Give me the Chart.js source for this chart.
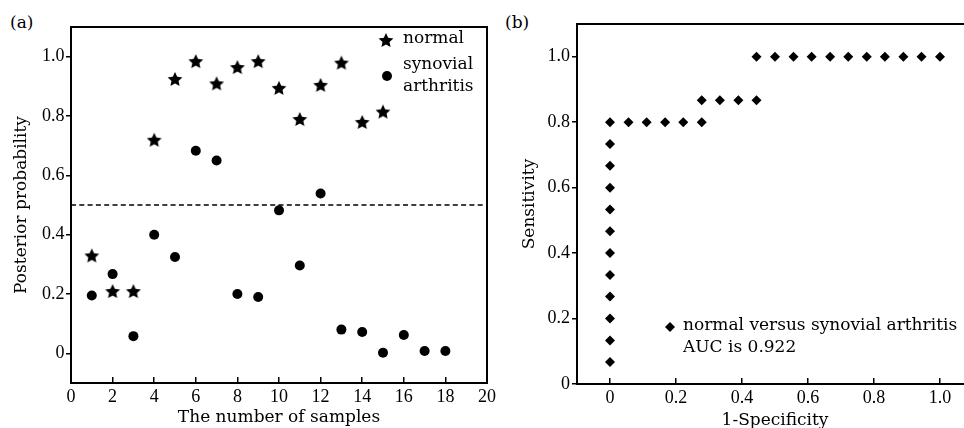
<!DOCTYPE html>
<html>
<head>
<meta charset="utf-8">
<script src="https://cdn.jsdelivr.net/npm/chart.js@4.4.0/dist/chart.umd.min.js"></script>
<style>
  html, body { margin: 0; padding: 0; background: #fff; overflow: hidden; }
  body { width: 964px; height: 428px; position: relative; }
  #chartA { position: absolute; left: 0; top: 0; }
  #chartB { position: absolute; left: 490px; top: 0; }
  .tag { position: absolute; top: 12px; font-family: 'DejaVu Serif'; font-size: 17px; line-height: 20px; color: #000; }
</style>
</head>
<body>
<div class="tag" style="left:10px">(a)</div>
<div class="tag" style="left:505px">(b)</div>
<canvas id="chartA" width="500" height="428"></canvas>
<canvas id="chartB" width="488" height="432"></canvas>
<script>
'use strict';

// (a) posterior probability per sample
let sampleIndex = [1, 2, 3, 4, 5, 6, 7, 8, 9, 10, 11, 12, 13, 14, 15, 16, 17, 18];
let normalProb = [0.33, 0.21, 0.21, 0.72, 0.925, 0.985, 0.91, 0.965, 0.985, 0.895, 0.79, 0.905, 0.98, 0.78, 0.815];
let synovialProb = [0.195, 0.267, 0.058, 0.4, 0.325, 0.683, 0.65, 0.2, 0.19, 0.482, 0.296, 0.539, 0.08, 0.072, 0.002, 0.062, 0.008, 0.008];
let thresholdX = [0, 20];
let thresholdY = [0.5, 0.5];
let sampleTicks = [0, 2, 4, 6, 8, 10, 12, 14, 16, 18, 20];
let probTicks = [0, 0.2, 0.4, 0.6, 0.8, 1.0];
let probLabels = ['0', '0.2', '0.4', '0.6', '0.8', '1.0'];

// (b) ROC points
let rocFpr = [0, 0, 0, 0, 0, 0, 0, 0, 0, 0, 0, 0,
  0.056, 0.111, 0.167, 0.222, 0.278,
  0.278, 0.333, 0.389, 0.444,
  0.444, 0.5, 0.556, 0.611, 0.667, 0.722, 0.778, 0.833, 0.889, 0.944, 1.0];
let rocTpr = [0.067, 0.133, 0.2, 0.267, 0.333, 0.4, 0.467, 0.533, 0.6, 0.667, 0.733, 0.8,
  0.8, 0.8, 0.8, 0.8, 0.8,
  0.867, 0.867, 0.867, 0.867,
  1, 1, 1, 1, 1, 1, 1, 1, 1, 1, 1];
let rateTicks = [0, 0.2, 0.4, 0.6, 0.8, 1.0];
let rateLabels = ['0', '0.2', '0.4', '0.6', '0.8', '1.0'];

Chart.defaults.font.family = "'DejaVu Serif'";
Chart.defaults.color = '#000';

// filled five point star used as marker
function makeStar(outer, inner) {
  let c = document.createElement('canvas');
  let size = Math.ceil(outer * 2) + 2;
  c.width = size;
  c.height = size;
  let g = c.getContext('2d');
  g.fillStyle = '#000';
  g.beginPath();
  for (let i = 0; i < 10; i++) {
    let r = i % 2 === 0 ? outer : inner;
    let a = -Math.PI / 2 + i * Math.PI / 5;
    let px = size / 2 + r * Math.cos(a);
    let py = size / 2 + 0.8 + r * Math.sin(a);
    if (i === 0) g.moveTo(px, py); else g.lineTo(px, py);
  }
  g.closePath();
  g.fill();
  return c;
}
let starImg = makeStar(7.8, 3.7);

function pairUp(xs, ys) {
  return ys.map((y, i) => ({x: xs[i], y: y}));
}

function fixedTicks(values) {
  return function(scale) {
    scale.ticks = values.map(v => ({value: v}));
  };
}

function labelFor(values, labels) {
  return function(value) {
    let i = values.findIndex(v => Math.abs(v - value) < 1e-9);
    return i >= 0 ? labels[i] : '';
  };
}

// fixed axis box, no extra room for the end labels
function fixHeight(h) {
  return function(s) {
    s.height = h;
    s.paddingLeft = 0;
    s.paddingRight = 0;
  };
}
function fixWidth(w) {
  return function(s) {
    s.width = w;
    s.paddingTop = 0;
    s.paddingBottom = 0;
  };
}

// box lines the axes don't draw
let framePlugin = {
  id: 'frame',
  afterDatasetsDraw(chart, args, opts) {
    let ctx = chart.ctx;
    let a = chart.chartArea;
    ctx.save();
    ctx.strokeStyle = '#000';
    ctx.lineWidth = 2;
    ctx.beginPath();
    ctx.moveTo(a.left - 1, a.top);
    ctx.lineTo(a.right, a.top);
    if (opts.right) ctx.lineTo(a.right, a.bottom + 1);
    ctx.stroke();
    ctx.restore();
  }
};

// hand made key, the built-in legend can't wrap a label
let keyPlugin = {
  id: 'key',
  afterDraw(chart, args, opts) {
    let ctx = chart.ctx;
    let a = chart.chartArea;
    ctx.save();
    ctx.font = "17px 'DejaVu Serif'";
    ctx.fillStyle = '#000';
    ctx.strokeStyle = '#000';
    ctx.textBaseline = 'middle';
    ctx.textAlign = 'left';
    opts.items.forEach(item => {
      let x0 = item.right !== undefined ? a.right - item.right : a.left + item.left;
      let y0 = item.top !== undefined ? a.top + item.top : a.bottom - item.bottom;
      let ds = chart.data.datasets[item.dataset];
      Chart.helpers.drawPoint(ctx, {pointStyle: ds.pointStyle, radius: ds.pointRadius, borderWidth: 0, rotation: 0}, x0, y0);
      item.lines.forEach((t, k) => ctx.fillText(t, x0 + item.gap, y0 + item.textDy + k * 21.5));
    });
    ctx.restore();
  }
};

let tickFont = {family: "'Liberation Serif'", size: 18};
let titleFont = {family: "'DejaVu Serif'", size: 17};

let chartA = new Chart(document.getElementById('chartA'), {
  type: 'scatter',
  data: {
    datasets: [
      {
        label: 'normal',
        data: pairUp(sampleIndex, normalProb),
        pointStyle: starImg,
        pointRadius: 7,
        backgroundColor: '#000',
        borderColor: '#000'
      },
      {
        label: 'synovial arthritis',
        data: pairUp(sampleIndex, synovialProb),
        pointStyle: 'circle',
        pointRadius: 5,
        borderWidth: 0,
        backgroundColor: '#000',
        borderColor: '#000'
      },
      {
        type: 'line',
        label: 'threshold',
        data: pairUp(thresholdX, thresholdY),
        borderColor: '#000',
        borderWidth: 1.3,
        borderDash: [5, 3.3],
        pointRadius: 0,
        fill: false
      }
    ]
  },
  options: {
    responsive: false,
    animation: false,
    events: [],
    layout: {padding: {top: 27, right: 13, left: 0, bottom: 0}},
    scales: {
      x: {
        type: 'linear',
        min: 0,
        max: 20,
        afterBuildTicks: fixedTicks(sampleTicks),
        afterFit: fixHeight(45),
        ticks: {font: tickFont, color: '#000', padding: 9, maxRotation: 0, autoSkip: false},
        grid: {drawOnChartArea: false, tickLength: -6, color: '#000', lineWidth: 1.5},
        border: {color: '#000', width: 2},
        title: {display: true, text: 'The number of samples', font: titleFont, color: '#000', padding: {top: 0, bottom: 0}}
      },
      y: {
        min: -0.1,
        max: 1.1,
        afterBuildTicks: fixedTicks(probTicks),
        afterFit: fixWidth(71),
        ticks: {font: tickFont, color: '#000', padding: 1.5, callback: labelFor(probTicks, probLabels)},
        grid: {drawOnChartArea: false, tickLength: 5, color: '#000', lineWidth: 1.5},
        border: {color: '#000', width: 2},
        title: {display: true, text: 'Posterior probability', font: titleFont, color: '#000', padding: {top: 11, bottom: 0}}
      }
    },
    plugins: {
      legend: {display: false},
      tooltip: {enabled: false},
      frame: {right: true},
      key: {
        items: [
          {dataset: 0, right: 101, top: 13, gap: 17, textDy: -1, lines: ['normal']},
          {dataset: 1, right: 100, top: 49, gap: 16, textDy: -11, lines: ['synovial', 'arthritis']}
        ]
      }
    }
  },
  plugins: [framePlugin, keyPlugin]
});

let chartB = new Chart(document.getElementById('chartB'), {
  type: 'scatter',
  data: {
    datasets: [
      {
        label: 'normal versus synovial arthritis',
        data: pairUp(rocFpr, rocTpr),
        pointStyle: 'rectRot',
        pointRadius: 5,
        borderWidth: 0,
        backgroundColor: '#000',
        borderColor: '#000'
      }
    ]
  },
  options: {
    responsive: false,
    animation: false,
    events: [],
    layout: {padding: {top: 24, right: 0, left: 0, bottom: 0}},
    scales: {
      x: {
        type: 'linear',
        min: -0.1,
        max: 1.1,
        afterBuildTicks: fixedTicks(rateTicks),
        afterFit: fixHeight(48),
        ticks: {font: tickFont, color: '#000', padding: 9, maxRotation: 0, autoSkip: false, callback: labelFor(rateTicks, rateLabels)},
        grid: {drawOnChartArea: false, tickLength: -6, color: '#000', lineWidth: 1.5},
        border: {color: '#000', width: 2},
        title: {display: true, text: '1-Specificity', font: titleFont, color: '#000', padding: {top: 0, bottom: 1}}
      },
      y: {
        min: 0,
        max: 1.1,
        afterBuildTicks: fixedTicks(rateTicks),
        afterFit: fixWidth(87),
        ticks: {font: tickFont, color: '#000', padding: 2, callback: labelFor(rateTicks, rateLabels)},
        grid: {drawOnChartArea: false, tickLength: 5, color: '#000', lineWidth: 1.5},
        border: {color: '#000', width: 2},
        title: {display: true, text: 'Sensitivity', font: titleFont, color: '#000', padding: {top: 29, bottom: 0}}
      }
    },
    plugins: {
      legend: {display: false},
      tooltip: {enabled: false},
      frame: {right: false},
      key: {
        items: [
          {dataset: 0, left: 93, bottom: 57, gap: 13, textDy: -1, lines: ['normal versus synovial arthritis', 'AUC is 0.922']}
        ]
      }
    }
  },
  plugins: [framePlugin, keyPlugin]
});
</script>
</body>
</html>
